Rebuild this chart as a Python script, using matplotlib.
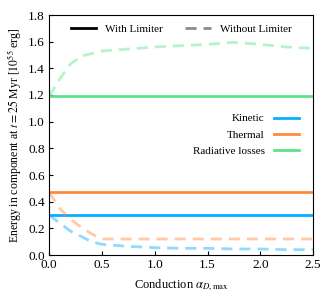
import numpy as np
import matplotlib
matplotlib.use("Agg")
import matplotlib.pyplot as plt
from matplotlib.lines import Line2D

plt.rcParams["font.family"] = ["Liberation Serif", "DejaVu Serif"]
plt.rcParams["mathtext.fontset"] = "stix"
plt.rcParams["font.size"] = 9

# conduction strength alpha_D,max
alpha = [0.0, 0.1, 0.2, 0.3, 0.4, 0.5, 0.75, 1.0, 1.25, 1.5, 1.75, 2.0, 2.25, 2.5]

# energies at t = 25 Myr [1e55 erg], without limiter
kin_nolim = [0.30, 0.24, 0.18, 0.14, 0.10, 0.08, 0.065, 0.055, 0.05, 0.05, 0.045, 0.045, 0.04, 0.04]
th_nolim = [0.47, 0.35, 0.27, 0.21, 0.16, 0.12, 0.12, 0.12, 0.12, 0.12, 0.12, 0.12, 0.12, 0.12]
rad_nolim = [1.19, 1.32, 1.43, 1.49, 1.51, 1.53, 1.545, 1.56, 1.57, 1.58, 1.595, 1.58, 1.56, 1.55]

# with limiter: constant
kin_lim = 0.30
th_lim = 0.47
rad_lim = 1.19

labels = ["Kinetic", "Thermal", "Radiative losses"]
colors = ["#0aaeff", "#ff8a3d", "#5ee38a"]

fig = plt.figure(figsize=(3.32, 3.0), dpi=100)
ax = fig.add_axes([0.148, 0.15, 0.795, 0.80])

for c, lim, nolim in zip(colors, [kin_lim, th_lim, rad_lim],
                         [kin_nolim, th_nolim, rad_nolim]):
    ax.axhline(lim, color=c, lw=2)
    ax.plot(alpha, nolim, color=c, lw=2, ls=(0, (4, 2.5)), alpha=0.45)

ax.set_xlim(0, 2.5)
ax.set_ylim(0, 1.8)
ax.set_xticks(np.arange(0, 2.51, 0.5))
ax.set_yticks(np.arange(0, 1.81, 0.2))
ax.tick_params(direction="in", length=3, width=0.8, pad=3, labelsize=9.5)
ax.set_xlabel(r"Conduction $\alpha_{D,\mathrm{max}}$", fontsize=9)
ax.set_ylabel(r"Energy in component at $t = 25$ Myr [$10^{55}$ erg]", fontsize=8.5)

style_h = [Line2D([], [], color="black", lw=2),
           Line2D([], [], color="gray", lw=2, ls=(0, (4, 2.5)), alpha=0.9)]
leg1 = ax.legend(style_h, ["With Limiter", "Without Limiter"], loc="center",
                 ncol=2, frameon=False, handlelength=2.3, columnspacing=2.0,
                 fontsize=8, bbox_to_anchor=(0.5, 0.94), borderaxespad=0)
ax.add_artist(leg1)

comp_h = [Line2D([], [], color=c, lw=2) for c in colors]
ax.legend(comp_h, labels, loc="center right", frameon=False, markerfirst=False,
          handlelength=2.3, fontsize=8, bbox_to_anchor=(0.985, 0.5),
          labelspacing=0.6)

fig.savefig("out.png", dpi=100)
